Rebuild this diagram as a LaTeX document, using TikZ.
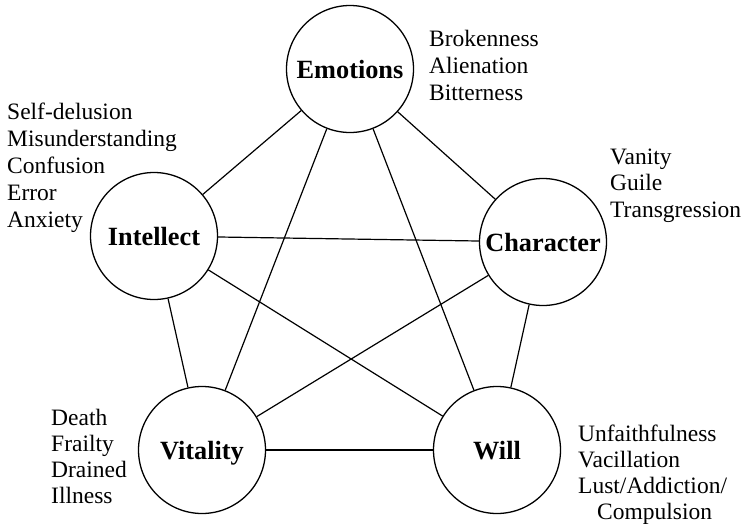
\documentclass[tikz,border=0pt]{standalone}
\usepackage{fontspec}
\setmainfont{Liberation Serif}
\begin{document}
\begin{tikzpicture}[x=1pt,y=-1pt,
  cnode/.style={circle, draw, line width=1.3pt, minimum size=127pt, inner sep=0pt,
    font=\fontsize{26.3}{30}\selectfont\bfseries, text depth=0pt},
  link/.style={line width=1.2pt},
  lst/.style={anchor=base west, inner sep=0pt, align=left}]
\fill[white] (0,0) rectangle (747,525);
\useasboundingbox (0,0) rectangle (747,525);
\node[cnode] (emo) at (350,69) {Emotions};
\node[cnode] (int) at (154,236) {Intellect};
\node[cnode] (cha) at (543,242) {Character};
\node[cnode] (vit) at (202,450) {Vitality};
\node[cnode] (wil) at (497,450) {Will};
% pentagon
\draw[link] (emo) -- (int);
\draw[link] (emo) -- (cha);
\draw[link] (int) -- (vit);
\draw[link] (cha) -- (wil);
\draw[link] (vit) -- (wil);
% pentagram
\draw[link] (emo) -- (vit);
\draw[link] (emo) -- (wil);
\draw[link] (int) -- (cha);
\draw[link] (int) -- (wil);
\draw[link] (cha) -- (vit);
% lists (anchor is the baseline of the last line)
\node[lst, font=\fontsize{23.5}{27}\selectfont] (emolist) at (429,100.7)
  {Brokenness\\Alienation\\Bitterness};
\node[lst, font=\fontsize{23.5}{27}\selectfont] (intlist) at (7,227.7)
  {Self-delusion\\Misunderstanding\\Confusion\\Error\\Anxiety};
\node[lst, font=\fontsize{23.5}{26.5}\selectfont] (chalist) at (610,217)
  {Vanity\\Guile\\Transgression};
\node[lst, font=\fontsize{23.5}{26}\selectfont] (vitlist) at (51,503)
  {Death\\Frailty\\Drained\\Illness};
\node[lst, font=\fontsize{23.5}{25.7}\selectfont] (willist) at (578,519)
  {Unfaithfulness\\Vacillation\\Lust/Addiction/\\\hspace*{19pt}Compulsion};
\end{tikzpicture}
\end{document}
